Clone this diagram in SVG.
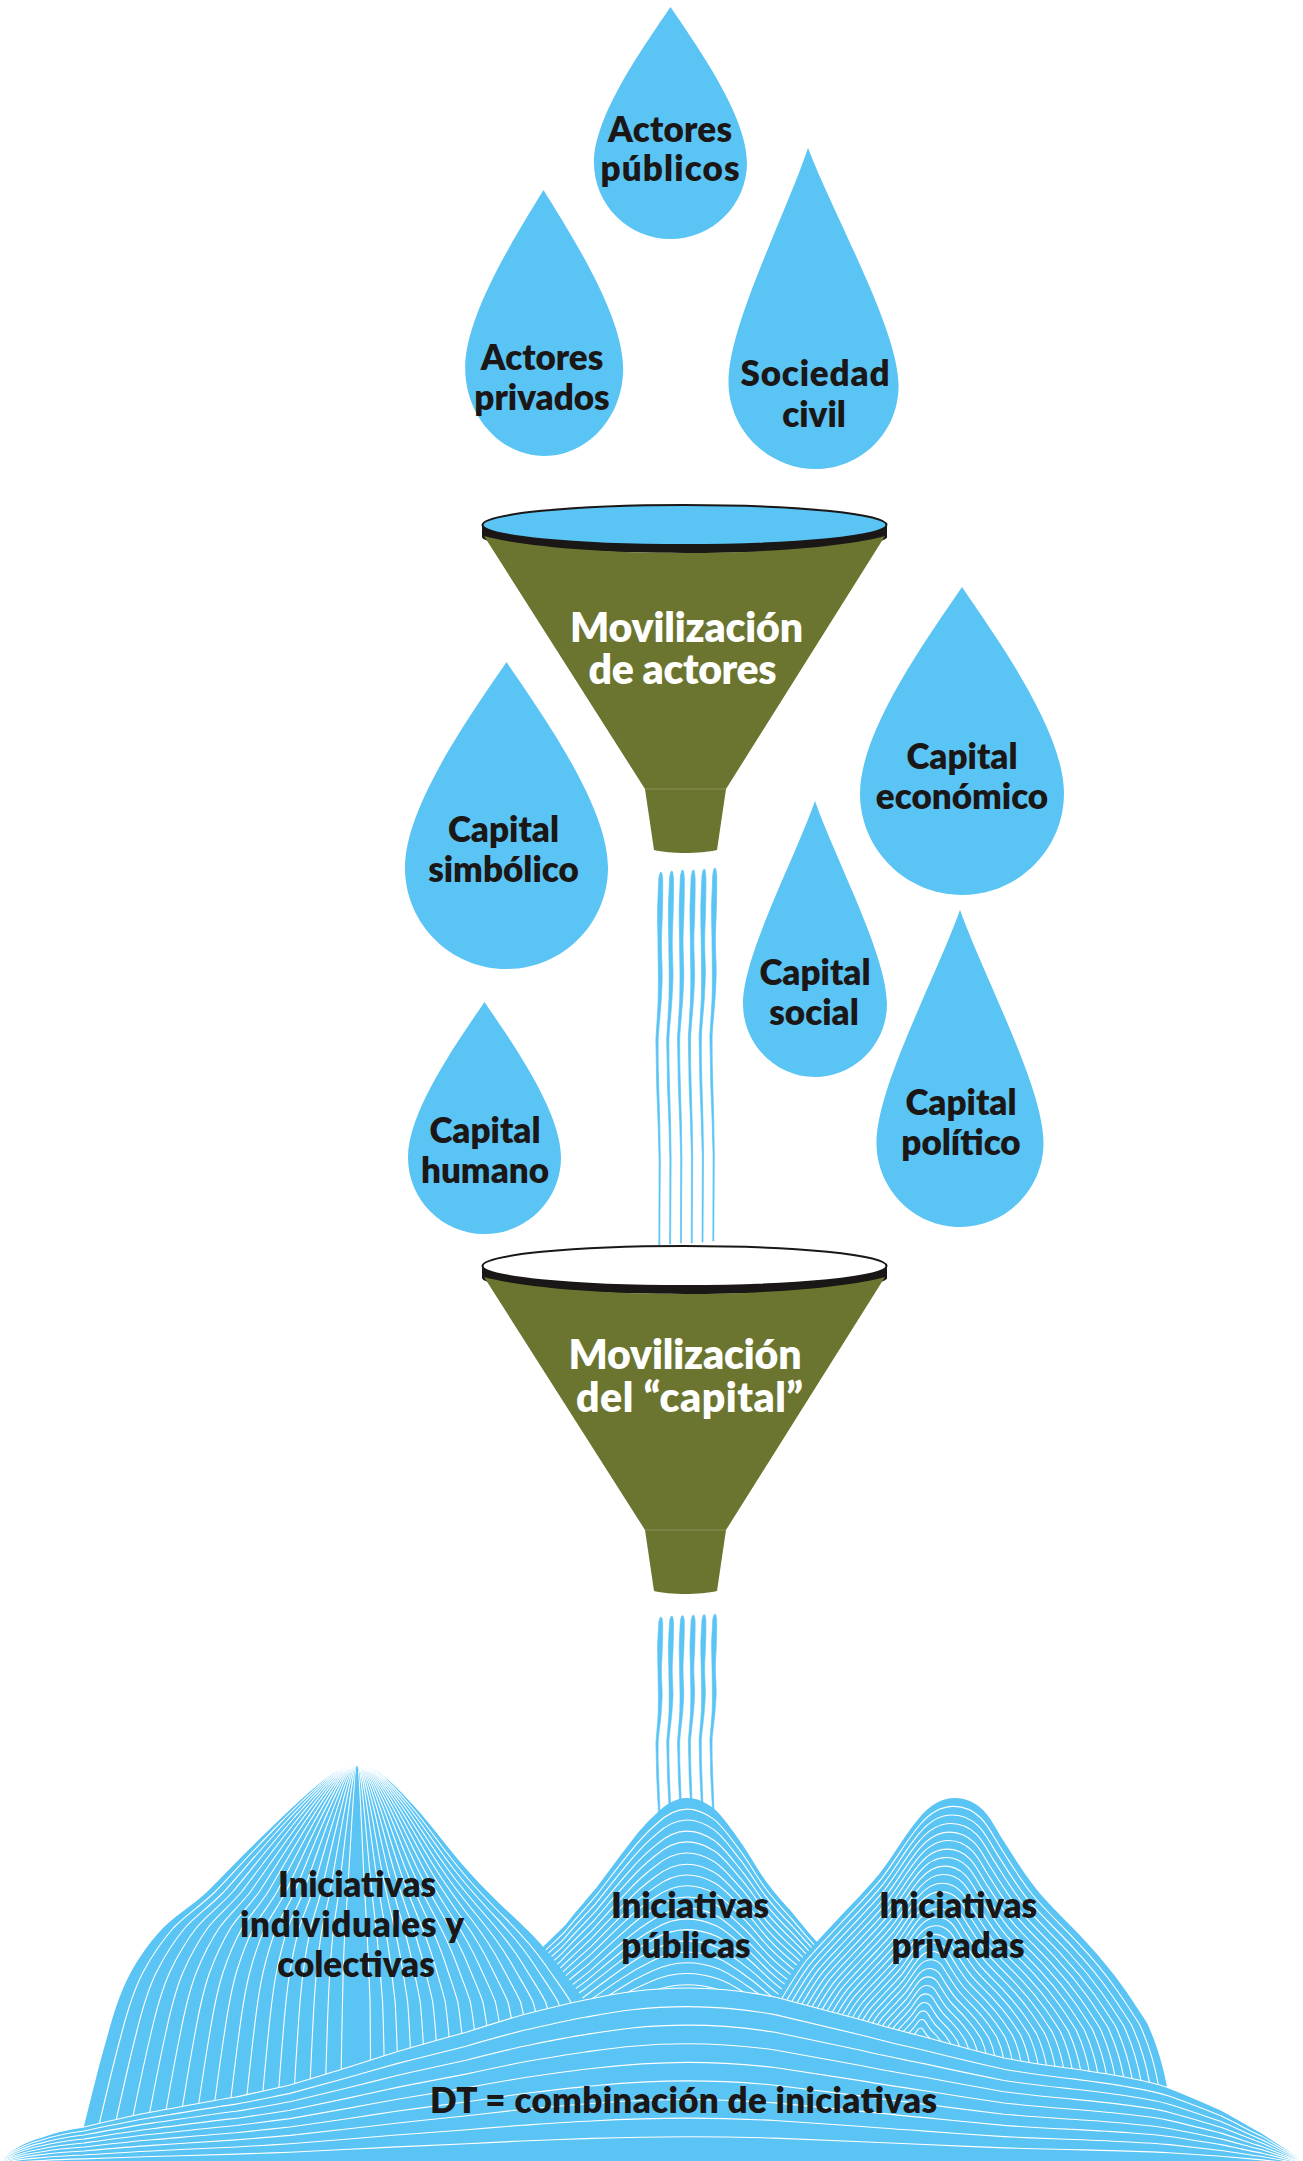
<svg xmlns="http://www.w3.org/2000/svg" width="1303" height="2161" viewBox="0 0 1303 2161">
<style>
.b{fill:#5ac4f4}
.l{fill:none;stroke:#fff;stroke-width:1.1;vector-effect:non-scaling-stroke}
.t{font-family:"Lato","Noto Sans",sans-serif;font-weight:800;font-size:35px;fill:#1a1716;text-anchor:middle}
.w{font-family:"Lato","Noto Sans",sans-serif;font-weight:800;font-size:41px;fill:#fff;text-anchor:middle}
.o{fill:#6c7530}
.k{fill:#1a1716}
.st{stroke:#5ac4f4;stroke-width:.7}
</style>
<defs>
<path id="d1" d="M0 0C.35 .17 1 .47 1 .67C1 .852 .552 1 0 1C-.552 1 -1 .852 -1 .67C-1 .47 -.35 .17 0 0Z"/>
<path id="d2" d="M0 0C.3 .22 1 .56 1 .735C1 .88 .552 1 0 1C-.552 1 -1 .88 -1 .735C-1 .56 -.3 .22 0 0Z"/>
<path id="s" d="M0 0C.8 0 1.4 3 1.7 8C1.8 20 1.6 30 1.4 38C1.2 50 .5 60 .4 71C.5 85 1.2 95 1.2 104C1 115 .6 120 .2 128C-1 145 -2.2 155 -2.9 168C-2.9 180 -2.8 188 -2.8 194L-2.3 214L-1.2 254L-.7 288L-1.2 373L-2.2 373L-1.9 288L-2.8 254L-4.3 214L-4.6 194L-5.1 168C-4 150 -3.3 140 -2.8 128C-2.6 115 -2.6 110 -2.6 104C-2.7 90 -3 80 -3 71C-3.2 60 -3.4 50 -3.4 38C-3 25 -2.5 15 -2.3 8C-1.8 3 -.8 0 0 0Z"/>
<g id="fn">
<path class="k" d="M482 524V537C482 546 575 553 684.5 553S887 546 887 537V524Z"/>
<path class="o" d="M484 536C520 546 600 553 684.5 553S850 546 885 536L726 789H645Z"/>
<path class="o" d="M645 789H726L717 850C700 854 670 854 654 850Z"/>
<path d="M645 789H726" stroke="#8b9258" stroke-width="1" fill="none"/>
</g>
<path id="lmR" class="l" d="M0 1765C18 1765 35 1782 57 1806C77 1828 92 1850 112 1872C128 1890 145 1906 160 1920C178 1937 190 1950 201 1965C212 1980 222 1992 228 2002C240 2035 248 2080 252 2161"/>
<path id="lmL" class="l" d="M0 1765C18 1765 38 1782 81 1823C105 1846 128 1870 150 1892C168 1908 182 1916 194 1928C210 1945 218 1958 226 1972C236 1990 243 2012 249 2034C258 2065 266 2098 273 2126L279 2161"/>
<path id="mm" class="l" d="M-290 -97C-255 -135 -205 -190 -140 -254C-130 -264 -125 -268 -120 -274C-110 -287 -100 -298 -90 -310C-78 -326 -68 -340 -57 -354C-48 -366 -40 -375 -30 -384C-22 -392 -12 -399 0 -399C10 -399 18 -395 26 -389C34 -383 42 -371 50 -360C60 -347 67 -333 76 -320C85 -307 93 -298 103 -287C112 -276 120 -266 130 -255C145 -238 155 -224 170 -207C190 -186 210 -168 230 -147L290 -87"/>
<path id="rm" class="l" d="M-170 45C-160 0 -150 -30 -141 -48C-131 -65 -124 -77 -115 -88C-104 -101 -92 -113 -81 -125C-66 -141 -52 -155 -38 -172C-24 -190 -12 -212 2 -228C12 -240 24 -247 37 -247C47 -247 57 -243 65 -235C73 -227 78 -216 85 -205C96 -188 106 -171 119 -155C134 -137 152 -121 169 -102C183 -87 195 -72 205 -58C215 -44 222 -33 229 -22C238 -3 245 20 249 42L262 135"/>
<path id="bm" class="l" d="M0 -4C4 -10 20 -22 42 -28C55 -33 70 -36 84 -38C105 -43 130 -49 152 -53C180 -58 210 -64 236 -68C255 -72 272 -76 290 -80C310 -86 330 -92 349 -98C365 -103 380 -108 396 -113C420 -120 445 -127 467 -133C485 -139 505 -145 522 -150C542 -155 565 -161 585 -165C610 -170 640 -177 688 -177C720 -177 750 -173 775 -168C805 -160 835 -152 862 -145C885 -138 905 -133 925 -128C950 -121 980 -113 1004 -107C1025 -103 1045 -100 1067 -97C1088 -94 1110 -91 1129 -87C1145 -84 1158 -81 1169 -77C1187 -70 1205 -62 1221 -55C1236 -47 1250 -38 1262 -32C1280 -20 1295 -10 1303 -4"/>
</defs>

<g id="connectors" class="b">
<g id="streams-1" class="st">
<use href="#s" transform="translate(661 872)"/><use href="#s" transform="translate(671.8 871)"/><use href="#s" transform="translate(682.6 870)"/><use href="#s" transform="translate(693.4 870)"/><use href="#s" transform="translate(704.2 869)"/><use href="#s" transform="translate(715 868)"/>
</g>
<g id="streams-2" class="st">
<use href="#s" transform="translate(661 1617) scale(1 .75)"/><use href="#s" transform="translate(671.8 1616) scale(1 .75)"/><use href="#s" transform="translate(682.6 1615.5) scale(1 .75)"/><use href="#s" transform="translate(693.4 1615) scale(1 .75)"/><use href="#s" transform="translate(704.2 1614.5) scale(1 .75)"/><use href="#s" transform="translate(715 1614) scale(1 .75)"/>
</g>
</g>

<g id="drop-actores-publicos"><use href="#d1" class="b" transform="matrix(76.5 0 0 232 670.5 7)"/><text class="t" x="670" y="142" textLength="124">Actores</text><text class="t" x="670" y="181" textLength="139">públicos</text></g>
<g id="drop-actores-privados"><use href="#d1" class="b" transform="matrix(79 0 1 266 543.5 190)"/><text class="t" x="542" y="370">Actores</text><text class="t" x="542" y="410">privados</text></g>
<g id="drop-sociedad-civil"><use href="#d2" class="b" transform="matrix(85 0 7.5 321 808 148)"/><text class="t" x="815" y="386" textLength="149">Sociedad</text><text class="t" x="814" y="427">civil</text></g>
<g id="drop-capital-simbolico"><use href="#d1" class="b" transform="matrix(101.5 0 0 307 506.5 662)"/><text class="t" x="503.5" y="842">Capital</text><text class="t" x="503.5" y="882">simbólico</text></g>
<g id="drop-capital-economico"><use href="#d1" class="b" transform="matrix(102 0 0 308 962 587)"/><text class="t" x="962" y="769">Capital</text><text class="t" x="962" y="809">económico</text></g>
<g id="drop-capital-social"><use href="#d2" class="b" transform="matrix(72 0 0 276 815 801)"/><text class="t" x="815" y="985">Capital</text><text class="t" x="814" y="1025">social</text></g>
<g id="drop-capital-politico"><use href="#d2" class="b" transform="matrix(83.5 0 0 317 960 910)"/><text class="t" x="961" y="1115">Capital</text><text class="t" x="961" y="1155">político</text></g>
<g id="drop-capital-humano"><use href="#d1" class="b" transform="matrix(76.5 0 0 232 484.5 1002)"/><text class="t" x="485" y="1143">Capital</text><text class="t" x="485" y="1183">humano</text></g>

<g id="funnel-actores">
<use href="#fn"/>
<ellipse cx="684.5" cy="525" rx="202" ry="20" class="b" stroke="#1a1716" stroke-width="2"/>
<text class="w" x="686.5" y="642" textLength="233">Movilización</text><text class="w" x="682.5" y="684" textLength="188">de actores</text>
</g>
<g id="funnel-capital">
<use href="#fn" y="741"/>
<ellipse cx="684.5" cy="1266" rx="202" ry="20" fill="#fff" stroke="#1a1716" stroke-width="2"/>
<text class="w" x="685" y="1369" textLength="233">Movilización</text><text class="w" x="689.5" y="1412" textLength="227">del “capital”</text>
</g>

<g id="mountain-publicas">
<path class="b" d="M397 2100C432 2062 482 2007 547 1943C557 1933 562 1929 567 1923C577 1910 587 1899 597 1887C609 1871 619 1857 630 1843C639 1831 647 1822 657 1813C665 1805 675 1798 687 1798C697 1798 705 1802 713 1808C721 1814 729 1826 737 1837C747 1850 754 1864 763 1877C772 1890 780 1899 790 1910C799 1921 807 1931 817 1942C832 1959 842 1973 857 1990C877 2011 897 2029 917 2050L977 2110V2197H397Z"/>
<use href="#mm" transform="translate(687 2197) scale(1.01 .972)"/><use href="#mm" transform="translate(687 2197) scale(1.02 .945)"/><use href="#mm" transform="translate(687 2197) scale(1.03 .917)"/><use href="#mm" transform="translate(687 2197) scale(1.04 .89)"/><use href="#mm" transform="translate(687 2197) scale(1.05 .862)"/><use href="#mm" transform="translate(687 2197) scale(1.06 .834)"/><use href="#mm" transform="translate(687 2197) scale(1.07 .807)"/><use href="#mm" transform="translate(687 2197) scale(1.08 .78)"/><use href="#mm" transform="translate(687 2197) scale(1.09 .752)"/><use href="#mm" transform="translate(687 2197) scale(1.1 .724)"/><use href="#mm" transform="translate(687 2197) scale(1.12 .697)"/><use href="#mm" transform="translate(687 2197) scale(1.14 .67)"/><use href="#mm" transform="translate(687 2197) scale(1.16 .642)"/><use href="#mm" transform="translate(687 2197) scale(1.18 .614)"/><use href="#mm" transform="translate(687 2197) scale(1.2 .587)"/><use href="#mm" transform="translate(687 2197) scale(1.24 .56)"/><use href="#mm" transform="translate(687 2197) scale(1.28 .532)"/>
</g>

<g id="mountain-individuales">
<path class="b" d="M357 1765C375 1765 392 1782 414 1806C434 1828 449 1850 469 1872C485 1890 502 1906 517 1920C535 1937 547 1950 558 1965C569 1980 579 1992 585 2002C597 2035 605 2080 609 2161H78L84 2126C91 2098 99 2065 108 2034C114 2012 121 1990 131 1972C139 1958 147 1945 163 1928C175 1916 189 1908 207 1892C229 1870 252 1846 276 1823C319 1782 339 1765 357 1765Z"/>
<g>
<use href="#lmR" transform="translate(357.5 0) scale(.055 1)"/><use href="#lmR" transform="translate(357.5 0) scale(.11 1)"/><use href="#lmR" transform="translate(357.5 0) scale(.165 1)"/><use href="#lmR" transform="translate(357.5 0) scale(.22 1)"/><use href="#lmR" transform="translate(357.5 0) scale(.275 1)"/><use href="#lmR" transform="translate(357.5 0) scale(.33 1)"/><use href="#lmR" transform="translate(357.5 0) scale(.385 1)"/><use href="#lmR" transform="translate(357.5 0) scale(.44 1)"/><use href="#lmR" transform="translate(357.5 0) scale(.495 1)"/><use href="#lmR" transform="translate(357.5 0) scale(.55 1)"/><use href="#lmR" transform="translate(357.5 0) scale(.605 1)"/><use href="#lmR" transform="translate(357.5 0) scale(.66 1)"/><use href="#lmR" transform="translate(357.5 0) scale(.715 1)"/><use href="#lmR" transform="translate(357.5 0) scale(.77 1)"/><use href="#lmR" transform="translate(357.5 0) scale(.825 1)"/><use href="#lmR" transform="translate(357.5 0) scale(.88 1)"/><use href="#lmR" transform="translate(357.5 0) scale(.935 1)"/>
<use href="#lmL" transform="translate(356.5 0) scale(-.059 1)"/><use href="#lmL" transform="translate(356.5 0) scale(-.118 1)"/><use href="#lmL" transform="translate(356.5 0) scale(-.177 1)"/><use href="#lmL" transform="translate(356.5 0) scale(-.236 1)"/><use href="#lmL" transform="translate(356.5 0) scale(-.295 1)"/><use href="#lmL" transform="translate(356.5 0) scale(-.354 1)"/><use href="#lmL" transform="translate(356.5 0) scale(-.413 1)"/><use href="#lmL" transform="translate(356.5 0) scale(-.472 1)"/><use href="#lmL" transform="translate(356.5 0) scale(-.531 1)"/><use href="#lmL" transform="translate(356.5 0) scale(-.59 1)"/><use href="#lmL" transform="translate(356.5 0) scale(-.649 1)"/><use href="#lmL" transform="translate(356.5 0) scale(-.708 1)"/><use href="#lmL" transform="translate(356.5 0) scale(-.767 1)"/><use href="#lmL" transform="translate(356.5 0) scale(-.826 1)"/><use href="#lmL" transform="translate(356.5 0) scale(-.885 1)"/><use href="#lmL" transform="translate(356.5 0) scale(-.944 1)"/>
</g>
</g>

<g id="mountain-privadas">
<path class="b" d="M748 2090C758 2045 768 2015 777 1997C787 1980 794 1968 803 1957C814 1944 826 1932 837 1920C852 1904 866 1890 880 1873C894 1855 906 1833 920 1817C930 1805 942 1798 955 1798C965 1798 975 1802 983 1810C991 1818 996 1829 1003 1840C1014 1857 1024 1874 1037 1890C1052 1908 1070 1924 1087 1943C1101 1958 1113 1973 1123 1987C1133 2001 1140 2012 1147 2023C1156 2042 1163 2065 1167 2087L1180 2180H748Z"/>
<g>
<use href="#rm" transform="translate(918 2045) scale(.966)"/><use href="#rm" transform="translate(918 2045) scale(.931)"/><use href="#rm" transform="translate(918 2045) scale(.897)"/><use href="#rm" transform="translate(918 2045) scale(.862)"/><use href="#rm" transform="translate(918 2045) scale(.828)"/><use href="#rm" transform="translate(918 2045) scale(.793)"/><use href="#rm" transform="translate(918 2045) scale(.759)"/><use href="#rm" transform="translate(918 2045) scale(.724)"/><use href="#rm" transform="translate(918 2045) scale(.69)"/><use href="#rm" transform="translate(918 2045) scale(.655)"/><use href="#rm" transform="translate(918 2045) scale(.621)"/><use href="#rm" transform="translate(918 2045) scale(.586)"/><use href="#rm" transform="translate(918 2045) scale(.552)"/><use href="#rm" transform="translate(918 2045) scale(.517)"/><use href="#rm" transform="translate(918 2045) scale(.483)"/><use href="#rm" transform="translate(918 2045) scale(.448)"/><use href="#rm" transform="translate(918 2045) scale(.414)"/><use href="#rm" transform="translate(918 2045) scale(.379)"/><use href="#rm" transform="translate(918 2045) scale(.345)"/><use href="#rm" transform="translate(918 2045) scale(.31)"/><use href="#rm" transform="translate(918 2045) scale(.276)"/><use href="#rm" transform="translate(918 2045) scale(.241)"/><use href="#rm" transform="translate(918 2045) scale(.207)"/><use href="#rm" transform="translate(918 2045) scale(.172)"/><use href="#rm" transform="translate(918 2045) scale(.138)"/><use href="#rm" transform="translate(918 2045) scale(.103)"/><use href="#rm" transform="translate(918 2045) scale(.069)"/>
</g>
</g>

<g id="mountain-combinacion">
<path class="b" d="M0 2161C4 2155 20 2143 42 2137C55 2132 70 2129 84 2127C105 2122 130 2116 152 2112C180 2107 210 2101 236 2097C255 2093 272 2089 290 2085C310 2079 330 2073 349 2067C365 2062 380 2057 396 2052C420 2045 445 2038 467 2032C485 2026 505 2020 522 2015C542 2010 565 2004 585 2000C610 1995 640 1988 688 1988C720 1988 750 1992 775 1997C805 2005 835 2013 862 2020C885 2027 905 2032 925 2037C950 2044 980 2052 1004 2058C1025 2062 1045 2065 1067 2068C1088 2071 1110 2074 1129 2078C1145 2081 1158 2084 1169 2088C1187 2095 1205 2103 1221 2110C1236 2118 1250 2127 1262 2133C1280 2145 1295 2155 1303 2161Z"/>
<use href="#bm" transform="translate(0 2165)"/><use href="#bm" transform="translate(0 2165) scale(1 .895)"/><use href="#bm" transform="translate(0 2165) scale(1 .79)"/><use href="#bm" transform="translate(0 2165) scale(1 .685)"/><use href="#bm" transform="translate(0 2165) scale(1 .58)"/><use href="#bm" transform="translate(0 2165) scale(1 .475)"/><use href="#bm" transform="translate(0 2165) scale(1 .37)"/><use href="#bm" transform="translate(0 2165) scale(1 .265)"/><use href="#bm" transform="translate(0 2165) scale(1 .16)"/>
</g>

<g id="labels-mountains">
<text class="t" x="357" y="1897" textLength="158">Iniciativas</text><text class="t" x="352" y="1937" textLength="224">individuales y</text><text class="t" x="356" y="1977">colectivas</text>
<text class="t" x="690" y="1918" textLength="158">Iniciativas</text><text class="t" x="686" y="1958">públicas</text>
<text class="t" x="958" y="1918" textLength="158">Iniciativas</text><text class="t" x="958" y="1958">privadas</text>
<text class="t" x="683.5" y="2113" textLength="507">DT = combinación de iniciativas</text>
</g>
</svg>
